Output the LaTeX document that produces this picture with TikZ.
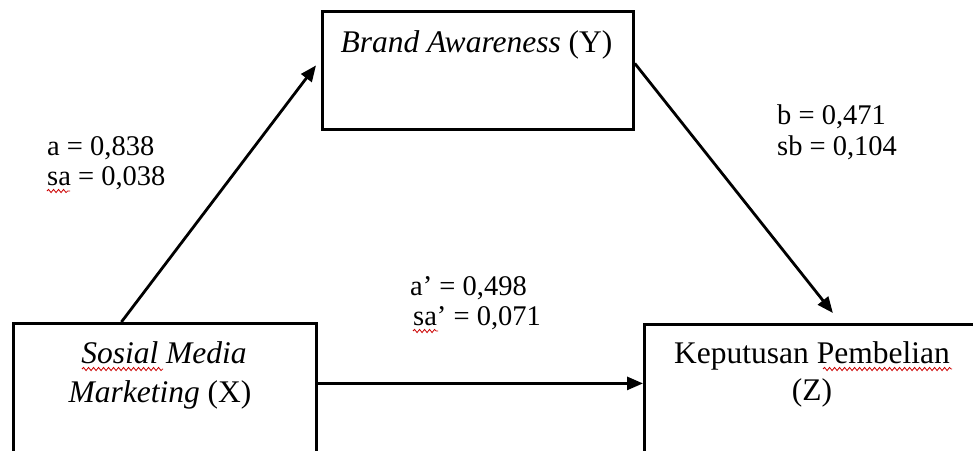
\documentclass[tikz,border=0pt]{standalone}
\usepackage{fontspec}
\setmainfont{Liberation Serif}
\usetikzlibrary{arrows.meta,decorations.pathmorphing}
\begin{document}
\begin{tikzpicture}[x=1pt,y=-1pt,
  box/.style={draw,line width=2.8pt,rectangle,inner sep=0pt,anchor=north west},
  txt/.style={anchor=base,inner sep=0pt,font=\fontsize{31.5}{36}\selectfont},
  lbl/.style={anchor=base west,inner sep=0pt,font=\fontsize{28.5}{33}\selectfont},
  arr/.style={line width=2.8pt,-{Triangle[length=16pt,width=13pt]}},
  wavy/.style={draw=red!80!black,line width=0.8pt,decorate,decoration={snake,amplitude=1.6pt,segment length=5pt}}]
\useasboundingbox (0,0) rectangle (973,450);
\clip (0,0) rectangle (973,450);
\fill[white] (0,0) rectangle (973,450);
% boxes
\node[box,minimum width=303pt,minimum height=150pt] (X) at (12,322) {};
\node[box,minimum width=311pt,minimum height=118pt] (Y) at (321,10) {};
\node[box,minimum width=345pt,minimum height=150pt] (Z) at (643,323) {};
% box texts
\node[txt] (ytxt) at (476.5,52) {\textit{Brand Awareness} (Y)};
\node[txt] (xtxt1) at (164,363) {\textit{Sosial Media}};
\node[txt] (xtxt2) at (160,402) {\textit{Marketing} (X)};
\node[txt] (ztxt1) at (812,363) {Keputusan Pembelian};
\node[txt] (ztxt2) at (812,400) {(Z)};
% labels
\node[lbl] (a1) at (47,155) {a = 0,838};
\node[lbl] (a2) at (47,185) {sa = 0,038};
\node[lbl] (b1) at (777,124) {b = 0,471};
\node[lbl] (b2) at (777,155) {sb = 0,104};
\node[lbl] (c1) at (410,295) {a’ = 0,498};
\node[lbl] (c2) at (413,325) {sa’ = 0,071};
% connectors
\draw[arr] ([xshift=-43.5pt]X.north) -- ([xshift=-5pt,yshift=5pt]Y.west);
\draw[arr] ([yshift=7pt]Y.east) -- ([xshift=16pt,yshift=10pt]Z.north);
\draw[arr] ([yshift=15pt]X.east) -- ([yshift=15pt]Z.west |- X.east);
% spell-check underlines
\draw[wavy] (82,369) -- (163,369);
\draw[wavy] (47,191) -- (70,191);
\draw[wavy] (413,331) -- (438,331);
\draw[wavy] (823,369) -- (952,369);
\end{tikzpicture}
\end{document}
